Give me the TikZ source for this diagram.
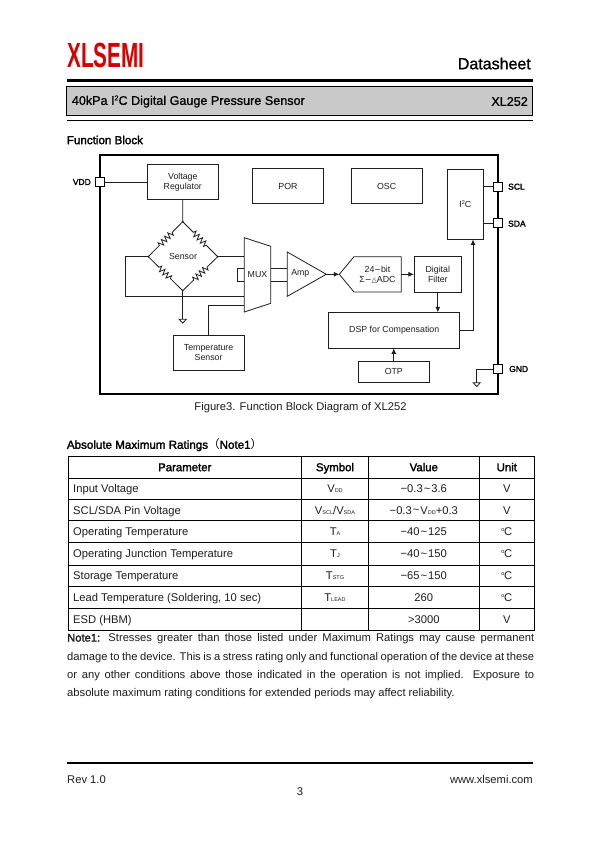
\documentclass[tikz,border=0pt]{standalone}
\usepackage{fontspec}
\setmainfont{Liberation Sans}
\newfontfamily\fakeb[FakeBold=2]{Liberation Sans}
\newfontfamily\fakec[FakeBold=1]{Liberation Sans}
\newfontfamily\cjk{Noto Sans CJK SC}
\newfontfamily\dvu{DejaVu Sans}
\usetikzlibrary{decorations.pathmorphing,arrows.meta}
\newcommand{\fs}[1]{\fontsize{#1}{#1}\selectfont}
\newcommand{\sbs}[1]{{\fs{5.5}#1}}
\newcommand{\sps}[2]{\raisebox{#2}{\fs{#1}2}}
\newcommand{\dg}{\raisebox{4pt}{\fs{5.5}o}\kern-0.3pt C}
\newcommand{\tld}{\kern1pt\raisebox{0.6pt}{\textasciitilde}\kern1pt}
\definecolor{ink}{HTML}{1E1E1E}
\tikzset{
 blockbox/.style={draw=ink,line width=0.8pt,fill=white,align=center,inner sep=0pt,font=\fontsize{8.8}{10}\selectfont,text=ink},
 pinbox/.style={draw=black,line width=1pt,fill=white,minimum size=9pt,inner sep=0pt},
 pinlabel/.style={font=\fakeb\fs{8.5},text=black,inner sep=0pt},
 wire/.style={draw=ink,line width=0.8pt},
 arrowwire/.style={wire,-{Latex[length=5.5pt,width=5pt]}},
 res/.style={wire,decorate,decoration={zigzag,segment length=4.6pt,amplitude=2.8pt,pre length=15pt,post length=15pt}},
 dot/.style={circle,fill=ink,inner sep=0pt,minimum size=2pt},
 lbl/.style={font=\fontsize{8.8}{10}\selectfont,text=ink,inner sep=0pt,align=center},
 hd/.style={font=\fakeb\fs{11.6},text=black,inner sep=0pt,anchor=west},
 th/.style={font=\fakeb\fs{11.4},text=black,inner sep=0pt,text height=8.2pt,text depth=2.4pt,yshift=-1pt},
 td/.style={font=\fs{11.2},text=ink,inner sep=0pt,text height=8pt,text depth=2.4pt,yshift=-1.3pt},
 tdl/.style={td,anchor=west},
 body/.style={font=\fs{11.2},text=ink,inner sep=0pt,anchor=west,text height=8pt,text depth=2.4pt,yshift=-1.3pt},
 rule/.style={draw=black},
}
\begin{document}
\begin{tikzpicture}[x=1pt,y=-1pt]
\useasboundingbox[fill=white] (0,0) rectangle (595,842);
% header
\node[inner sep=0pt,anchor=north west,text=red!85!black] (logo) at (67.3,43.3) {\resizebox{77pt}{24.4pt}{\bfseries XLSEMI}};
\node[font=\fakec\fs{16},inner sep=0pt,anchor=east] (ds) at (531,63.5) {Datasheet};
\draw[rule,line width=3pt] (67,80.3) -- (533,80.3);
\node[draw=black,line width=0.8pt,fill=black!21,minimum width=466pt,minimum height=28.6pt,inner sep=0pt] (titlebar) at (299.7,101) {};
\node[font=\fakec\fs{12.6},inner sep=0pt,anchor=west] (title) at (71.7,101.5) {40kPa I\sps{7}{4.5pt}C Digital Gauge Pressure Sensor};
\node[font=\fakec\fs{12.6},inner sep=0pt,anchor=east] (part) at (528,101.5) {XL252};
\draw[rule,line width=0.9pt] (67,120.3) -- (533,120.3);
\node[hd] (fb) at (66.7,140) {Function Block};
% frame
\draw[draw=black,line width=2.2pt] (99.7,154.7) rectangle (498.3,393.7);
% blocks
\node[blockbox,minimum width=70.3pt,minimum height=35pt] (vr) at (182.8,182.2) {Voltage\\Regulator};
\node[blockbox,minimum width=70.6pt,minimum height=34.6pt] (por) at (288,186) {POR};
\node[blockbox,minimum width=70.7pt,minimum height=34.6pt] (osc) at (386.6,186) {OSC};
\node[blockbox,minimum width=35.3pt,minimum height=69.7pt] (iic) at (465.3,204.2) {I\sps{5.5}{3pt}C};
\node[blockbox,minimum width=70.7pt,minimum height=35pt] (temp) at (208.6,352.8) {Temperature\\Sensor};
\node[blockbox,minimum width=47pt,minimum height=35.3pt] (filt) at (437.8,274.3) {Digital\\Filter};
\node[blockbox,minimum width=131pt,minimum height=35.3pt] (dsp) at (394.2,330.3) {DSP for Compensation};
\node[blockbox,minimum width=70.3pt,minimum height=21pt] (otp) at (393.8,371.8) {OTP};
% pins
\node[pinbox] (pvdd) at (99.5,182) {};
\node[pinbox] (pscl) at (497.5,186.7) {};
\node[pinbox] (psda) at (497.5,223.3) {};
\node[pinbox] (pgnd) at (497.5,369) {};
\node[pinlabel,anchor=east] (lvdd) at (91,182) {VDD};
\node[pinlabel,anchor=west] (lscl) at (508,186.7) {SCL};
\node[pinlabel,anchor=west] (lsda) at (508,223.7) {SDA};
\node[pinlabel,anchor=west] (lgnd) at (509,369) {GND};
% bridge
\node[dot] (bt) at (182.7,221.7) {};
\node[dot] (bl) at (148.3,256.7) {};
\node[dot] (br) at (217.7,256.7) {};
\node[dot] (bb) at (182.7,290.7) {};
\node[lbl] (sens) at (183,256.5) {Sensor};
\draw[res] (bt.center) -- (bl.center);
\draw[res] (bt.center) -- (br.center);
\draw[res] (bl.center) -- (bb.center);
\draw[res] (br.center) -- (bb.center);
% mux, amp, adc outlines
\coordinate (m1) at (244.3,237.7);
\coordinate (m2) at (270.7,246.3);
\coordinate (m3) at (270.7,303.3);
\coordinate (m4) at (244.3,312);
\coordinate (muxin1) at (244.3,256.7);
\coordinate (muxin2) at (244.3,268);
\coordinate (muxin3) at (244.3,281);
\coordinate (muxin4) at (244.3,296);
\coordinate (muxin5) at (244.3,305.3);
\coordinate (muxo1) at (270.7,268);
\coordinate (muxo2) at (270.7,281);
\coordinate (ampi1) at (287.3,268);
\coordinate (ampi2) at (287.3,281);
\coordinate (amptip) at (326.3,274.3);
\coordinate (adctip) at (339.3,274.3);
\coordinate (adcout) at (401.3,274.3);
\draw[wire,fill=white] (m1) -- (m2) -- (m3) -- (m4) -- cycle;
\draw[wire,fill=white] (287.3,252) -- (amptip) -- (287.3,296.3) -- cycle;
\draw[wire,fill=white] (adctip) -- (354,256.7) -- (401.3,256.7) -- (401.3,292) -- (354,292) -- cycle;
\node[lbl] (muxl) at (257.5,274.3) {MUX};
\node[lbl] (ampl) at (300.3,273.8) {Amp};
\node[lbl] (adcl) at (377.5,274.5) {24{\dvu\fs{8}−}bit\\Σ{\dvu\fs{8}−}{\dvu\fs{7}△}ADC};
% wires
\draw[wire] (pvdd) -- (vr.west |- pvdd);
\draw[wire] (vr) -- (bt.center);
\draw[wire] (br.center) -- (muxin1);
\draw[wire] (bl.center) -| (125.3,296) -- (muxin4);
\draw[wire] (muxin2) -- (237.7,268) -- (237.7,281) -- (muxin3);
\coordinate (gb) at (182.7,319.3);
\draw[wire] (bb.center) -- (gb);
\draw[wire] (179.2,319.3) -- (186.2,319.3) -- (182.7,323.2) -- cycle;
\draw[wire] (temp.north) |- (muxin5);
\draw[wire] (muxo1) -- (ampi1);
\draw[wire] (muxo2) -- (ampi2);
\draw[arrowwire] (amptip) -- (adctip);
\draw[arrowwire] (adcout) -- (filt.west);
\draw[arrowwire] (filt.south) -- (dsp.north -| filt.south);
\draw[arrowwire] (otp.north) -- (dsp.south -| otp.north);
\draw[arrowwire] (dsp.east) -| (iic.south -| 473,0);
\draw[wire] (iic.east |- pscl) -- (pscl);
\draw[wire] (iic.east |- psda) -- (psda);
\coordinate (gg) at (476.7,382.7);
\draw[wire] (pgnd) -| (gg);
\draw[wire] (473.2,382.7) -- (480.2,382.7) -- (476.7,386.6) -- cycle;
% caption
\node[font=\fs{11.2},text=ink,inner sep=0pt] (cap) at (300.5,407.5) {Figure3. Function Block Diagram of XL252};
\node[hd] (amr) at (66.7,445) {Absolute Maximum Ratings{\cjk\fs{11.6}（}Note1{\cjk\fs{11.6}）}};
% table
\draw[rule,line width=0.8pt] (68,456.7) rectangle (534.3,630);
\foreach \yy in {478,499.3,520.7,542.7,565,586.7,608.3} \draw[rule,line width=0.8pt] (68,\yy) -- (534.3,\yy);
\foreach \xx in {301.7,368.3,479.3} \draw[rule,line width=0.8pt] (\xx,456.7) -- (\xx,630);
\node[th] (h1) at (184.8,467.3) {Parameter};
\node[th] (h2) at (335,467.3) {Symbol};
\node[th] (h3) at (423.8,467.3) {Value};
\node[th] (h4) at (506.8,467.3) {Unit};
\node[tdl] (p1) at (73,488.7) {Input Voltage};
\node[tdl] (p2) at (73,510.3) {SCL/SDA Pin Voltage};
\node[tdl] (p3) at (73,531.7) {Operating Temperature};
\node[tdl] (p4) at (73,553.7) {Operating Junction Temperature};
\node[tdl] (p5) at (73,575.7) {Storage Temperature};
\node[tdl] (p6) at (73,597.7) {Lead Temperature (Soldering, 10 sec)};
\node[tdl] (p7) at (73,619) {ESD (HBM)};
\node[td] (s1) at (335,488.7) {V\sbs{DD}};
\node[td] (s2) at (335,510.3) {V\sbs{SCL}/V\sbs{SDA}};
\node[td] (s3) at (335,531.7) {T\sbs{A}};
\node[td] (s4) at (335,553.7) {T\sbs{J}};
\node[td] (s5) at (335,575.7) {T\sbs{STG}};
\node[td] (s6) at (335,597.7) {T\sbs{LEAD}};
\node[td] (v1) at (423.8,488.7) {−0.3\tld3.6};
\node[td] (v2) at (423.8,510.3) {−0.3\tld V\sbs{DD}+0.3};
\node[td] (v3) at (423.8,531.7) {−40\tld125};
\node[td] (v4) at (423.8,553.7) {−40\tld150};
\node[td] (v5) at (423.8,575.7) {−65\tld150};
\node[td] (v6) at (423.8,597.7) {260};
\node[td] (v7) at (423.8,619) {>3000};
\node[td] (u1) at (506.8,488.7) {V};
\node[td] (u2) at (506.8,510.3) {V};
\node[td] (u3) at (506.8,531.7) {\dg};
\node[td] (u4) at (506.8,553.7) {\dg};
\node[td] (u5) at (506.8,575.7) {\dg};
\node[td] (u6) at (506.8,597.7) {\dg};
\node[td] (u7) at (506.8,619) {V};
% note
\node[body] (n1) at (67,637.5) {\makebox[467pt][s]{{\fakeb Note1:} Stresses greater than those listed under Maximum Ratings may cause permanent}};
\node[body] (n2) at (67,656) {\makebox[467pt][s]{damage to the device. This is a stress rating only and functional operation of the device at these}};
\node[body] (n3) at (67,674) {\makebox[467pt][s]{or any other conditions above those indicated in the operation is not implied. Exposure to}};
\node[body] (n4) at (67,692) {absolute maximum rating conditions for extended periods may affect reliability.};
% footer
\draw[rule,line width=1.8pt] (67,763) -- (533,763);
\node[body] (rev) at (67,779) {Rev 1.0};
\node[font=\fs{11.2},text=ink,inner sep=0pt,anchor=east] (web) at (533,779) {www.xlsemi.com};
\node[font=\fs{11.2},text=ink,inner sep=0pt] (pg) at (300,792) {3};
\end{tikzpicture}
\end{document}
